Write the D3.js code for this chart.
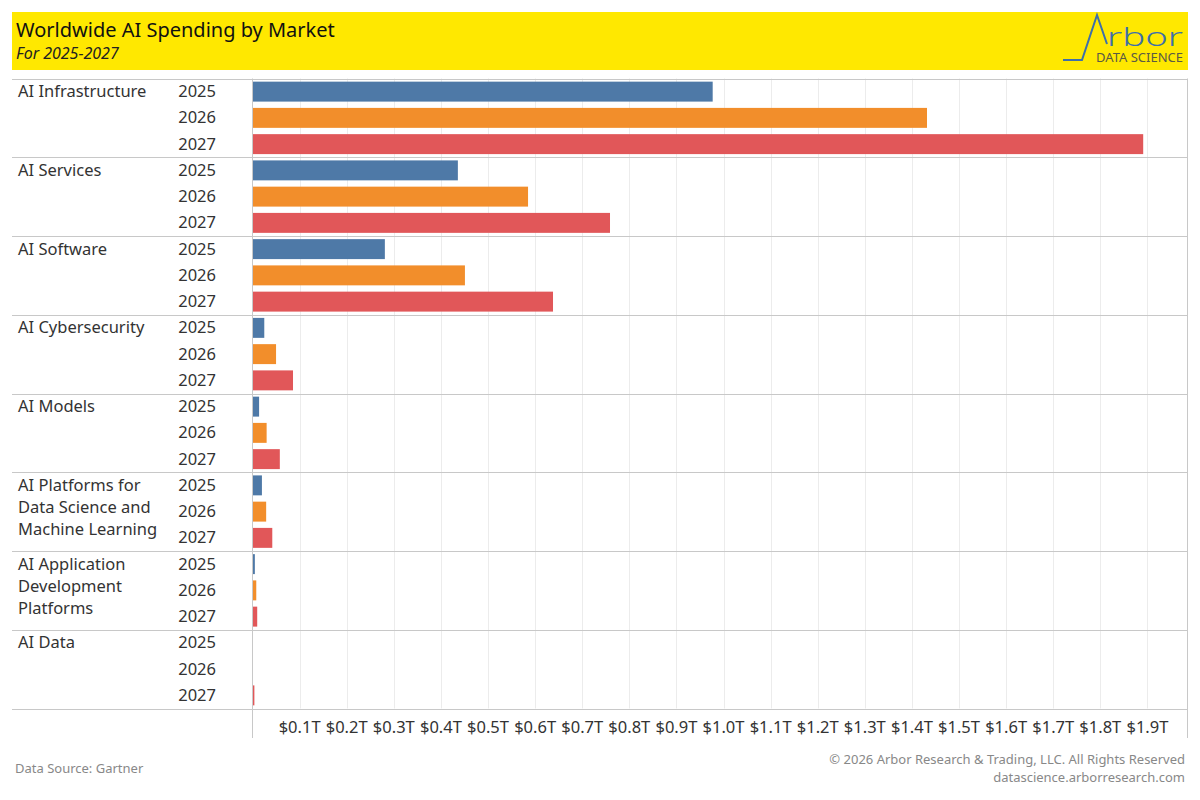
<!DOCTYPE html>
<meta charset="utf-8">
<style>
    body { margin: 0; background: #fff; }
    svg text { font-family: "Noto Sans", "Open Sans", sans-serif; }
    .cat text, .yr text { fill: #333; font-size: 16.5px; }
    .tick-lbl { fill: #333; font-size: 16.5px; }
    .foot { fill: #888; font-size: 13px; }
</style>
<svg width="1200" height="800"></svg>
<script src="https://d3js.org/d3.v7.min.js"></script>
<script>

    // values in $ trillions
    var markets = [
        ["AI Infrastructure"],
        ["AI Services"],
        ["AI Software"],
        ["AI Cybersecurity"],
        ["AI Models"],
        ["AI Platforms for", "Data Science and", "Machine Learning"],
        ["AI Application", "Development", "Platforms"],
        ["AI Data"]
    ];
    var years = ["2025", "2026", "2027"];
    var values2025 = [0.977, 0.436, 0.281, 0.025, 0.014, 0.020, 0.005, 0.0004];
    var values2026 = [1.432, 0.585, 0.451, 0.050, 0.030, 0.029, 0.008, 0.0008];
    var values2027 = [1.891, 0.759, 0.638, 0.086, 0.058, 0.042, 0.010, 0.004];
    var tickValues = [0.1, 0.2, 0.3, 0.4, 0.5, 0.6, 0.7, 0.8, 0.9, 1.0, 1.1, 1.2, 1.3, 1.4, 1.5, 1.6, 1.7, 1.8, 1.9];
    var colors = ["#4E79A7", "#F28E2B", "#E15759"];

    (function () {
        var series = [values2025, values2026, values2027];

        var svg = d3.select("svg");
        var left = 12, right = 1187, plotTop = 78.5, plotBottom = 708.5, zeroX = 252.5;

        // header
        svg.append("rect").attr("x", 12).attr("y", 12).attr("width", 1176).attr("height", 58).attr("fill", "#FFE800");
        svg.append("text").attr("x", 16).attr("y", 37).style("font-size", "20px").attr("fill", "#111")
            .text("Worldwide AI Spending by Market");
        svg.append("text").attr("x", 16).attr("y", 59).style("font-size", "16px").style("font-style", "italic").attr("fill", "#222")
            .text("For 2025-2027");

        // logo
        svg.append("path").attr("d", "M1063,60 L1082,60 L1097,15 L1107,44")
            .attr("fill", "none").attr("stroke", "#3E6FAA").attr("stroke-width", 2);
        svg.append("text").attr("x", 1107).attr("y", 46)
            .attr("textLength", 76).attr("lengthAdjust", "spacingAndGlyphs")
            .style("font-size", "26px").style("font-weight", 300).attr("fill", "#3E6FAA").text("rbor");
        svg.append("text").attr("x", 1096).attr("y", 62)
            .attr("textLength", 87).attr("lengthAdjust", "spacingAndGlyphs")
            .style("font-size", "12.5px").attr("fill", "#5b5a45").text("DATA SCIENCE");

        var x = d3.scaleLinear().domain([0, 1.984]).range([zeroX, right]);

        var band = d3.scaleBand().domain(d3.range(markets.length)).range([plotTop, plotBottom]);
        var row = d3.scaleBand().domain(years).range([0, band.bandwidth()]).paddingInner(0.24).paddingOuter(0.12);

        var g = svg.append("g");

        // gridlines
        g.selectAll(".grid").data(tickValues).enter().append("line")
            .attr("x1", function (d) { return Math.round(x(d)) + 0.5; })
            .attr("x2", function (d) { return Math.round(x(d)) + 0.5; })
            .attr("y1", plotTop).attr("y2", plotBottom)
            .attr("stroke", "#ececec").attr("stroke-width", 1);

        // bars
        var grp = g.selectAll(".grp").data(markets).enter().append("g")
            .attr("transform", function (d, i) { return "translate(0," + band(i) + ")"; });

        grp.selectAll("rect").data(function (d, i) {
            return years.map(function (y, j) { return {year: y, value: series[j][i], c: colors[j]}; });
        }).enter().append("rect")
            .attr("x", x(0) + 0.5)
            .attr("y", function (d) { return row(d.year); })
            .attr("height", row.bandwidth())
            .attr("width", function (d) { return Math.max(0, x(d.value) - x(0) - 0.5); })
            .attr("fill", function (d) { return d.c; });

        // category labels
        var cat = grp.append("g").attr("class", "cat");
        cat.append("text").attr("x", 18).attr("y", 18.5)
            .selectAll("tspan").data(function (d) { return d; }).enter().append("tspan")
            .attr("x", 18).attr("dy", function (d, i) { return i ? 22 : 0; })
            .text(function (d) { return d; });

        // year labels
        grp.append("g").attr("class", "yr").selectAll("text").data(years).enter().append("text")
            .attr("x", 216).attr("text-anchor", "end")
            .attr("y", function (d) { return row(d) + row.bandwidth() / 2 + 5.5; })
            .text(function (d) { return d; });

        // band separators
        g.selectAll(".sep").data(d3.range(markets.length + 1)).enter().append("line")
            .attr("x1", left).attr("x2", right)
            .attr("y1", function (d) { return Math.round(plotTop + d * band.bandwidth()) + 0.5; })
            .attr("y2", function (d) { return Math.round(plotTop + d * band.bandwidth()) + 0.5; })
            .attr("stroke", "#c8c8c8");

        // axis and border lines
        g.append("line").attr("x1", zeroX).attr("x2", zeroX).attr("y1", plotTop).attr("y2", 738).attr("stroke", "#c8c8c8");
        g.append("line").attr("x1", right + 0.5).attr("x2", right + 0.5).attr("y1", plotTop).attr("y2", 738).attr("stroke", "#c8c8c8");

        g.selectAll(".tick-lbl").data(tickValues).enter().append("text")
            .attr("class", "tick-lbl")
            .attr("x", function (d) { return x(d); })
            .attr("y", 733)
            .attr("text-anchor", "middle")
            .text(function (d) { return "$" + d.toFixed(1) + "T"; });

        // footer
        svg.append("text").attr("class", "foot").attr("x", 15).attr("y", 773).text("Data Source: Gartner");
        svg.append("text").attr("class", "foot").attr("x", 1185).attr("y", 764).attr("text-anchor", "end")
            .text("\u00a9 2026 Arbor Research & Trading, LLC. All Rights Reserved");
        svg.append("text").attr("class", "foot").attr("x", 1185).attr("y", 782).attr("text-anchor", "end")
            .text("datascience.arborresearch.com");
    })();

</script>
